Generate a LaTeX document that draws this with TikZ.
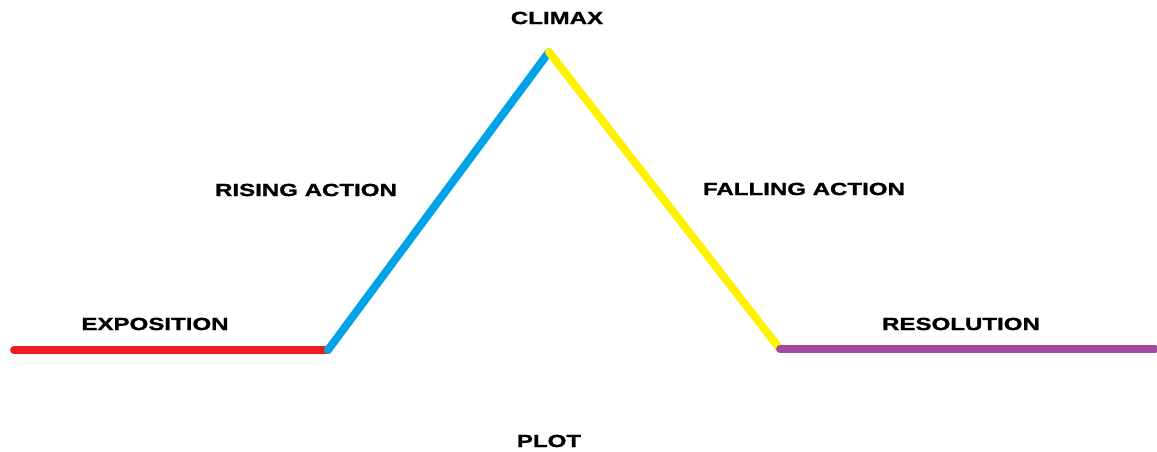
\documentclass[tikz,border=0pt]{standalone}
\usepackage{fontspec}
\setmainfont{Liberation Sans}
\newfontfamily\stagefont{Liberation Sans}[FakeStretch=1.37, FakeBold=1.2]
\usepackage{tikz}

\definecolor{expored}{RGB}{237,28,36}
\definecolor{risingblue}{RGB}{0,162,232}
\definecolor{fallingyellow}{RGB}{255,242,0}
\definecolor{resolpurple}{RGB}{163,73,164}

\tikzset{
  plotline/.style={line width=4.5pt, line cap=round},
  stage/.style={font=\stagefont\fontsize{10}{12}\selectfont\bfseries, inner sep=0pt}
}

\begin{document}
\begin{tikzpicture}[x=0.02cm, y=-0.02cm]
  \useasboundingbox (0,0) rectangle (1157,452);
  % turning points of the plot
  \coordinate (start) at (14,350);
  \coordinate (rise) at (328,350);
  \coordinate (top) at (549,52);
  \coordinate (fall) at (780,349);
  \coordinate (end) at (1155,349);
  \draw[plotline, expored] (start) -- (rise);
  \draw[plotline, risingblue] (rise) -- (top);
  \draw[plotline, fallingyellow] (top) -- (fall);
  \draw[plotline, resolpurple] (fall) -- (end);
  % labels
  \node[stage] (climax) at (557,18) {CLIMAX};
  \node[stage] (rising) at (306,190) {RISING ACTION};
  \node[stage] (falling) at (804,189) {FALLING ACTION};
  \node[stage] (expo) at (155,324) {EXPOSITION};
  \node[stage] (resol) at (961,324) {RESOLUTION};
  \node[stage] (plot) at (549,441) {PLOT};
\end{tikzpicture}
\end{document}
